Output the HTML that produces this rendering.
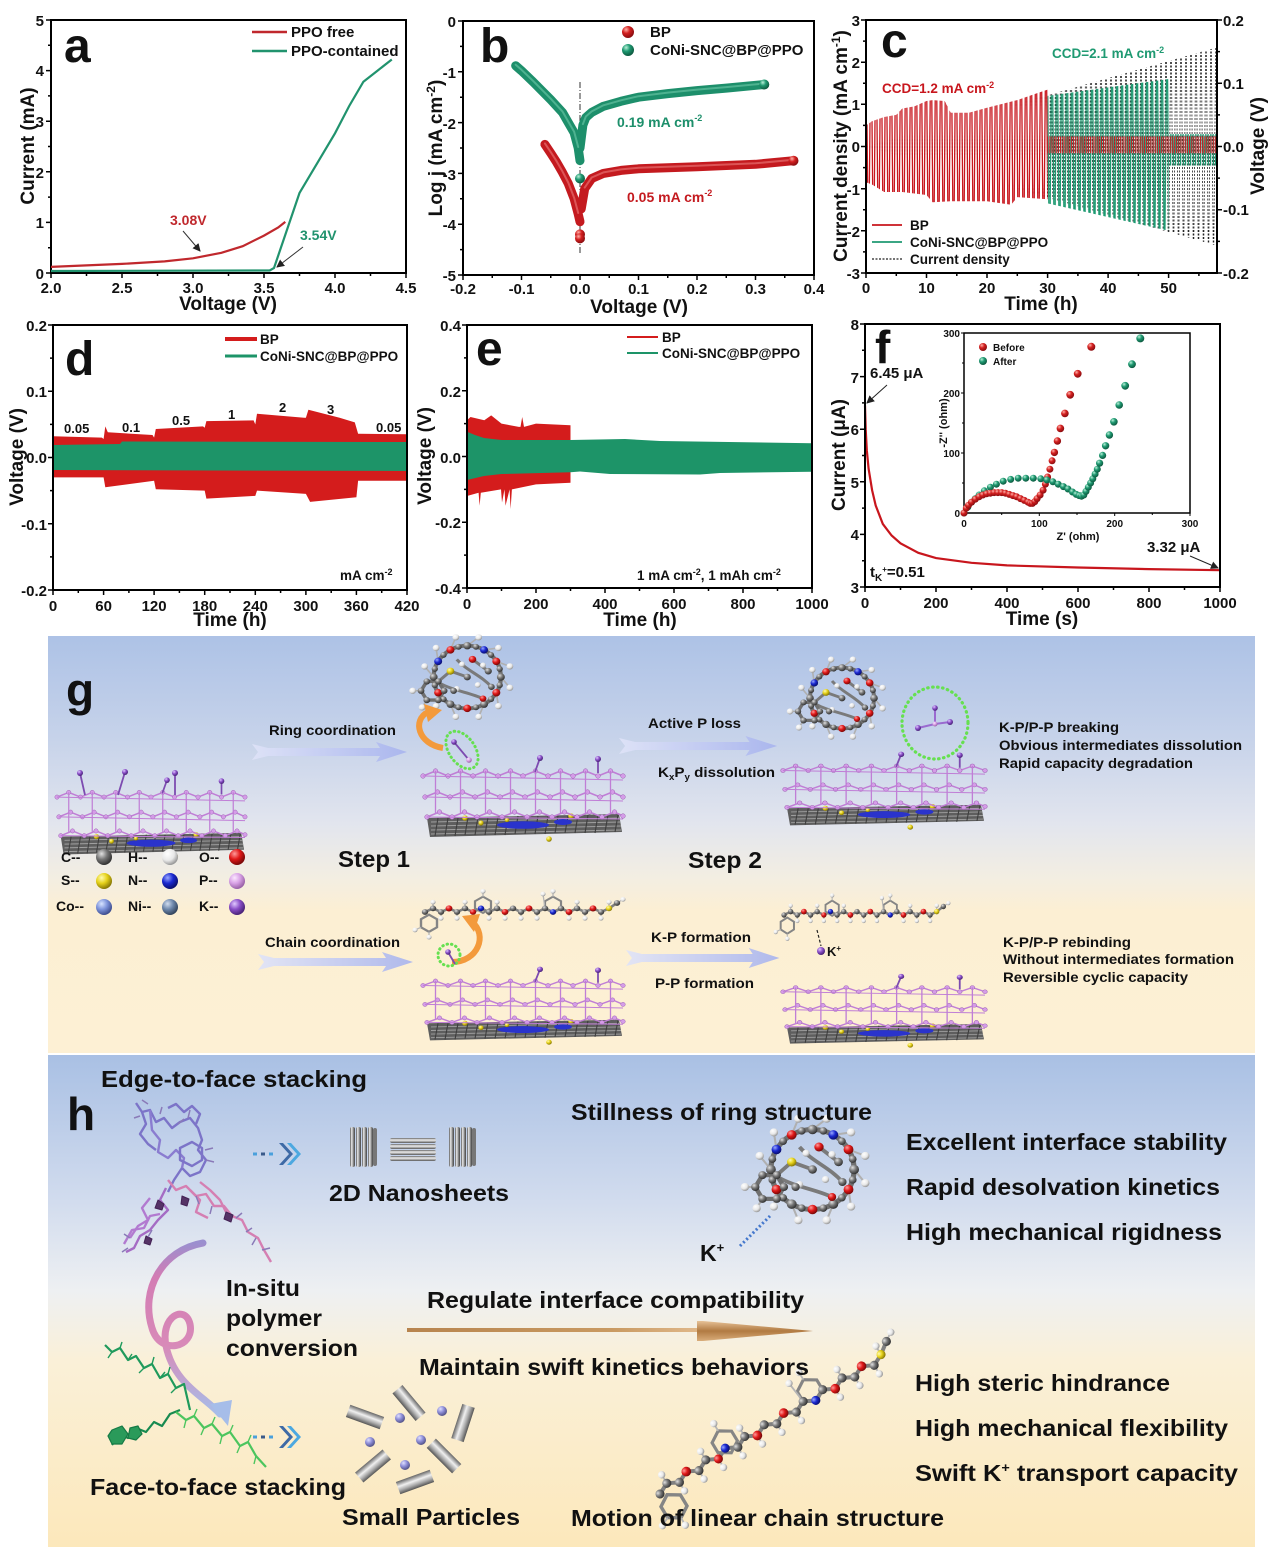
<!DOCTYPE html>
<html><head><meta charset="utf-8"><style>
html,body{margin:0;padding:0;background:#fff;}
svg{display:block;}
text{font-family:"Liberation Sans",Arial,sans-serif;font-weight:bold;fill:#111;}
</style></head><body>
<svg width="1269" height="1547" viewBox="0 0 1269 1547" xmlns="http://www.w3.org/2000/svg">
<defs>
<radialGradient id="gR" cx="35%" cy="30%" r="70%"><stop offset="0" stop-color="#ffb0a8"/><stop offset="0.45" stop-color="#d42020"/><stop offset="1" stop-color="#8a0d10"/></radialGradient>
<radialGradient id="gG" cx="35%" cy="30%" r="70%"><stop offset="0" stop-color="#b8f0d8"/><stop offset="0.45" stop-color="#1f9a72"/><stop offset="1" stop-color="#0d5a40"/></radialGradient>
<radialGradient id="gC" cx="35%" cy="30%" r="70%"><stop offset="0" stop-color="#e0e0e0"/><stop offset="0.5" stop-color="#777"/><stop offset="1" stop-color="#333"/></radialGradient>
<radialGradient id="gH" cx="35%" cy="30%" r="70%"><stop offset="0" stop-color="#fff"/><stop offset="0.6" stop-color="#e8e8e8"/><stop offset="1" stop-color="#9a9a9a"/></radialGradient>
<radialGradient id="gO" cx="35%" cy="30%" r="70%"><stop offset="0" stop-color="#ff9a9a"/><stop offset="0.5" stop-color="#e01818"/><stop offset="1" stop-color="#7a0808"/></radialGradient>
<radialGradient id="gS" cx="35%" cy="30%" r="70%"><stop offset="0" stop-color="#fffbb0"/><stop offset="0.5" stop-color="#e6d21a"/><stop offset="1" stop-color="#8a7a05"/></radialGradient>
<radialGradient id="gN" cx="35%" cy="30%" r="70%"><stop offset="0" stop-color="#9aa8ff"/><stop offset="0.5" stop-color="#1a28d0"/><stop offset="1" stop-color="#0a0f70"/></radialGradient>
<radialGradient id="gP" cx="35%" cy="30%" r="70%"><stop offset="0" stop-color="#fbe8ff"/><stop offset="0.5" stop-color="#d9a2e6"/><stop offset="1" stop-color="#9a62a8"/></radialGradient>
<radialGradient id="gCo" cx="35%" cy="30%" r="70%"><stop offset="0" stop-color="#d8e4ff"/><stop offset="0.5" stop-color="#7f95dc"/><stop offset="1" stop-color="#3f4f90"/></radialGradient>
<radialGradient id="gNi" cx="35%" cy="30%" r="70%"><stop offset="0" stop-color="#d0dcee"/><stop offset="0.5" stop-color="#6e88ac"/><stop offset="1" stop-color="#34465e"/></radialGradient>
<radialGradient id="gK" cx="35%" cy="30%" r="70%"><stop offset="0" stop-color="#e0c8ff"/><stop offset="0.5" stop-color="#8a4fc8"/><stop offset="1" stop-color="#4a2378"/></radialGradient>
<radialGradient id="gPart" cx="35%" cy="30%" r="70%"><stop offset="0" stop-color="#e0e0ff"/><stop offset="0.5" stop-color="#8e8ed8"/><stop offset="1" stop-color="#55558a"/></radialGradient>

<linearGradient id="bgG" x1="0" y1="0" x2="0" y2="1"><stop offset="0" stop-color="#adc2e6"/><stop offset="0.25" stop-color="#c7d3ea"/><stop offset="0.45" stop-color="#e2e5ee"/><stop offset="0.58" stop-color="#f3eee2"/><stop offset="0.66" stop-color="#fcefd3"/><stop offset="1" stop-color="#fdf0d4"/></linearGradient>
<linearGradient id="bgH" x1="0" y1="0" x2="0" y2="1"><stop offset="0" stop-color="#a9c0e4"/><stop offset="0.3" stop-color="#d2dcee"/><stop offset="0.48" stop-color="#eef0f2"/><stop offset="0.62" stop-color="#faf0d8"/><stop offset="1" stop-color="#fce8bb"/></linearGradient>
<linearGradient id="arrG" x1="0" y1="0" x2="1" y2="0"><stop offset="0" stop-color="#dfe3f8"/><stop offset="1" stop-color="#a7b3ee"/></linearGradient>
<linearGradient id="brown" x1="0" y1="0" x2="1" y2="0"><stop offset="0" stop-color="#b7844e"/><stop offset="0.7" stop-color="#c99a62"/><stop offset="1" stop-color="#e0b88a"/></linearGradient>
<linearGradient id="brownV" x1="0" y1="0" x2="0" y2="1"><stop offset="0" stop-color="#e6c196"/><stop offset="0.5" stop-color="#b17a42"/><stop offset="1" stop-color="#d9ad7a"/></linearGradient>
<linearGradient id="loopG" x1="0" y1="0" x2="0" y2="1"><stop offset="0" stop-color="#9b8fcf"/><stop offset="0.2" stop-color="#d37cb4"/><stop offset="0.6" stop-color="#d88ab8"/><stop offset="1" stop-color="#a6bde9"/></linearGradient>
<linearGradient id="metalH" x1="0" y1="0" x2="1" y2="0"><stop offset="0" stop-color="#555"/><stop offset="0.35" stop-color="#eee"/><stop offset="0.6" stop-color="#999"/><stop offset="1" stop-color="#444"/></linearGradient>
<linearGradient id="metalV" x1="0" y1="0" x2="0" y2="1"><stop offset="0" stop-color="#666"/><stop offset="0.4" stop-color="#f0f0f0"/><stop offset="0.7" stop-color="#aaa"/><stop offset="1" stop-color="#555"/></linearGradient>

<pattern id="zzK" patternUnits="userSpaceOnUse" x="866" y="20" width="5" height="253"><path d="M0,0 L2.5,253 L5,0" stroke="#222" stroke-width="0.8" stroke-dasharray="2 1.5" fill="none"/></pattern>
<pattern id="zzR" patternUnits="userSpaceOnUse" x="866" y="20" width="5" height="253"><path d="M0,0 L2.5,253 L5,0" stroke="#c8161d" stroke-width="1.3" fill="none"/></pattern>
<pattern id="zzG" patternUnits="userSpaceOnUse" x="867" y="20" width="5" height="253"><path d="M0,0 L2.5,253 L5,0" stroke="#1f9a72" stroke-width="1.3" fill="none"/></pattern>
<pattern id="zzR2" patternUnits="userSpaceOnUse" x="866" y="20" width="4.3" height="253"><path d="M0,0 L2.15,253 L4.3,0" stroke="#c8161d" stroke-width="1.1" fill="none"/></pattern>

<marker id="ah" markerWidth="8" markerHeight="8" refX="7" refY="4" orient="auto" markerUnits="userSpaceOnUse"><path d="M0,0 L8,4 L0,8 z" fill="#222"/></marker>
<marker id="pd" markerWidth="6" markerHeight="6" refX="3" refY="3" markerUnits="userSpaceOnUse"><circle cx="3" cy="3" r="2.3" fill="#d59ce8" stroke="#9a60b0" stroke-width="0.5"/></marker>

<g id="slab">
  <polygon points="4,57 196,53 199,71 7,76" fill="#5e5e5e"/>
  <path d="M8,61 L196,57 M8,65 L197,61 M8,69 L198,65 M8,73 L198,69" stroke="#a0a0a0" stroke-width="1" fill="none"/>
  <path d="M12,75 L15,57 M22,75 L25,57 M32,75 L35,57 M42,74 L45,56 M52,74 L55,56 M62,74 L65,56 M72,74 L75,56 M82,74 L85,56 M92,73 L95,55 M102,73 L105,55 M112,73 L115,55 M122,73 L125,55 M132,72 L135,55 M142,72 L145,55 M152,72 L155,54 M162,72 L165,54 M172,72 L175,54 M182,71 L185,54 M192,71 L195,54" stroke="#3e3e3e" stroke-width="1.1" fill="none"/>
  <ellipse cx="100" cy="64" rx="26" ry="3.8" fill="#2a33cc"/>
  <ellipse cx="140" cy="61" rx="9" ry="3" fill="#2a33cc"/>
  <circle cx="42" cy="57" r="2.8" fill="url(#gS)"/><circle cx="58" cy="62" r="2.6" fill="url(#gS)"/><circle cx="148" cy="55" r="2.8" fill="url(#gS)"/><circle cx="126" cy="78" r="2.8" fill="url(#gS)"/><circle cx="84" cy="59" r="2.2" fill="url(#gS)"/>
  <g stroke="#c07ed6" stroke-width="1.6" fill="none" marker-start="url(#pd)" marker-mid="url(#pd)" marker-end="url(#pd)">
    <polyline points="0,15 12.5,10 25,15 37.5,10 50,15 62.5,10 75,15 87.5,10 100,15 112.5,10 125,15 137.5,10 150,15 162.5,10 175,15 187.5,10 200,15"/>
    <polyline points="2,36 14.5,31 27,36 39.5,31 52,36 64.5,31 77,36 89.5,31 102,36 114.5,31 127,36 139.5,31 152,36 164.5,31 177,36 189.5,31 200,36"/>
    <polyline points="4,56 16.5,51 29,56 41.5,51 54,56 66.5,51 79,56 91.5,51 104,56 116.5,51 129,56 141.5,51 154,56 166.5,51 179,56 191.5,51 200,55"/>
  </g>
  <path d="M0,15 L200,19 M2,36 L200,40 M4,56 L200,58" stroke="#c07ed6" stroke-width="1.1" fill="none"/>
  <path d="M12.5,10 V52 M37.5,10 V52 M62.5,10 V52 M87.5,10 V52 M112.5,10 V52 M137.5,10 V52 M162.5,10 V52 M187.5,10 V52" stroke="#c07ed6" stroke-width="1.3" fill="none"/>
  <g stroke="#7d4bb0" stroke-width="1.8"><line x1="112" y1="11" x2="117" y2="-3"/><line x1="175" y1="12" x2="175" y2="-2"/></g>
  <circle cx="117" cy="-3" r="3" fill="url(#gK)"/><circle cx="175" cy="-2" r="3" fill="url(#gK)"/>
</g>

<g id="ring">
  <circle cx="5" cy="-2" r="32" stroke="#6f6f6f" stroke-width="4" fill="none"/>
  <path d="M-5,-20 C5,-8 18,-4 28,8 M-20,5 C-8,12 8,14 20,20" stroke="#7a7a7a" stroke-width="3" fill="none"/>
  <polygon points="-17,12 -22.5,21.5 -33.5,21.5 -39,12 -33.5,2.5 -22.5,2.5" stroke="#6f6f6f" stroke-width="3.4" fill="none"/>
  <path d="M-22.5,2.5 L-11,-8 L5,-2 M10,-20 L25,-8" stroke="#7a7a7a" stroke-width="3" fill="none"/>
  <g stroke="#b0b0b0" stroke-width="1.6"><path d="M37,-2 L45.6,8.9 M32.7,14 L34.7,27.7 M21,25.7 L15.9,38.6 M-11,25.7 L-5.9,38.6 M-22.7,14 L-24.7,27.7 M-27,-2 L-35.6,-12.9 M-22.7,-18 L-24.7,-31.7 M-11,-29.7 L-5.9,-42.6 M5,-34 L15.9,-42.6 M21,-29.7 L34.7,-31.7 M32.7,-18 L45.6,-12.9 M-39,12 L-47,12 M-33.5,21.5 L-38,29"/></g>
  <circle cx="45.6" cy="8.9" r="3.2" fill="url(#gH)"/><circle cx="34.7" cy="27.7" r="3.2" fill="url(#gH)"/><circle cx="15.9" cy="38.6" r="3.2" fill="url(#gH)"/><circle cx="-5.9" cy="38.6" r="3.2" fill="url(#gH)"/><circle cx="-24.7" cy="27.7" r="3.2" fill="url(#gH)"/><circle cx="-35.6" cy="-12.9" r="3.2" fill="url(#gH)"/><circle cx="-24.7" cy="-31.7" r="3.2" fill="url(#gH)"/><circle cx="-5.9" cy="-42.6" r="3.2" fill="url(#gH)"/><circle cx="15.9" cy="-42.6" r="3.2" fill="url(#gH)"/><circle cx="34.7" cy="-31.7" r="3.2" fill="url(#gH)"/><circle cx="45.6" cy="-12.9" r="3.2" fill="url(#gH)"/><circle cx="-47" cy="12" r="3.2" fill="url(#gH)"/><circle cx="-38" cy="29" r="3.2" fill="url(#gH)"/>
  <circle cx="-5" cy="10" r="2.8" fill="url(#gH)"/><circle cx="15" cy="6" r="2.8" fill="url(#gH)"/><circle cx="0" cy="-15" r="2.8" fill="url(#gH)"/><circle cx="20" cy="-14" r="2.8" fill="url(#gH)"/>
  <circle cx="35.9" cy="6.3" r="3" fill="url(#gC)"/><circle cx="27.6" cy="20.6" r="3" fill="url(#gC)"/><circle cx="13.3" cy="28.9" r="3" fill="url(#gC)"/><circle cx="-3.3" cy="28.9" r="3" fill="url(#gC)"/><circle cx="-17.6" cy="20.6" r="3" fill="url(#gC)"/><circle cx="-25.9" cy="6.3" r="3" fill="url(#gC)"/><circle cx="-25.9" cy="-10.3" r="3" fill="url(#gC)"/><circle cx="-17.6" cy="-24.6" r="3" fill="url(#gC)"/><circle cx="-3.3" cy="-32.9" r="3" fill="url(#gC)"/><circle cx="13.3" cy="-32.9" r="3" fill="url(#gC)"/><circle cx="27.6" cy="-24.6" r="3" fill="url(#gC)"/><circle cx="35.9" cy="-10.3" r="3" fill="url(#gC)"/>
  <circle cx="37" cy="-2" r="3.8" fill="url(#gC)"/><circle cx="32.7" cy="14" r="3.8" fill="url(#gO)"/><circle cx="21" cy="25.7" r="3.8" fill="url(#gC)"/><circle cx="5" cy="30" r="3.8" fill="url(#gO)"/><circle cx="-11" cy="25.7" r="3.8" fill="url(#gC)"/><circle cx="-22.7" cy="14" r="3.8" fill="url(#gO)"/><circle cx="-27" cy="-2" r="3.8" fill="url(#gC)"/><circle cx="-22.7" cy="-18" r="3.8" fill="url(#gN)"/><circle cx="-11" cy="-29.7" r="3.8" fill="url(#gO)"/><circle cx="5" cy="-34" r="3.8" fill="url(#gC)"/><circle cx="21" cy="-29.7" r="3.8" fill="url(#gN)"/><circle cx="32.7" cy="-18" r="3.8" fill="url(#gO)"/>
  <circle cx="-11" cy="-8" r="3.6" fill="url(#gS)"/><circle cx="5" cy="-2" r="3.4" fill="url(#gC)"/><circle cx="10" cy="-20" r="3.6" fill="url(#gO)"/><circle cx="25" cy="-8" r="3.4" fill="url(#gC)"/><circle cx="28" cy="8" r="3.2" fill="url(#gC)"/><circle cx="20" cy="20" r="3.2" fill="url(#gO)"/><circle cx="-8" cy="12" r="3.2" fill="url(#gC)"/>
  <circle cx="-17" cy="12" r="3.2" fill="url(#gC)"/><circle cx="-22.5" cy="21.5" r="3.2" fill="url(#gC)"/><circle cx="-33.5" cy="21.5" r="3.2" fill="url(#gC)"/><circle cx="-39" cy="12" r="3.2" fill="url(#gC)"/><circle cx="-33.5" cy="2.5" r="3.2" fill="url(#gC)"/><circle cx="-22.5" cy="2.5" r="3.2" fill="url(#gC)"/>
</g>

<g id="chain">
  <polyline points="0,0 8,-4 16,0 24,-4 32,0 40,-4 48,0 56,-4 64,0 72,-4 80,0 88,-4 96,0 104,-4 112,0 120,-4 128,0 136,-4 144,0 152,-4 160,0 168,-4 176,0 184,-4 192,-10" stroke="#808080" stroke-width="2.8" fill="none"/>
  <polygon points="-4,8 4,3 12,8 12,17 4,22 -4,17" stroke="#858585" stroke-width="2.4" fill="none"/>
  <polygon points="50,-12 58,-17 66,-12 66,-4 58,1 50,-4" stroke="#858585" stroke-width="2.2" fill="none"/>
  <polygon points="120,-12 128,-17 136,-12 136,-4 128,1 120,-4" stroke="#858585" stroke-width="2.2" fill="none"/>
  <g stroke="#b5b5b5" stroke-width="1.3"><path d="M8,-4 L8,-11 M16,0 L16,7 M32,0 L32,7 M40,-4 L40,-11 M48,0 L48,7 M64,0 L64,7 M72,-4 L72,-11 M80,0 L80,7 M96,0 L96,7 M112,0 L112,7 M120,-4 L118,-20 M144,0 L144,7 M152,-4 L152,-11 M160,0 L160,7 M176,0 L176,7 M184,-4 L184,-11 M192,-10 L198,-14 M-4,17 L-10,20 M4,22 L4,28 M58,-17 L58,-23 M128,-17 L128,-23"/></g>
  <circle cx="8" cy="-11" r="2.6" fill="url(#gH)"/><circle cx="16" cy="7" r="2.6" fill="url(#gH)"/><circle cx="32" cy="7" r="2.6" fill="url(#gH)"/><circle cx="40" cy="-11" r="2.6" fill="url(#gH)"/><circle cx="48" cy="7" r="2.6" fill="url(#gH)"/><circle cx="64" cy="7" r="2.6" fill="url(#gH)"/><circle cx="72" cy="-11" r="2.6" fill="url(#gH)"/><circle cx="80" cy="7" r="2.6" fill="url(#gH)"/><circle cx="96" cy="7" r="2.6" fill="url(#gH)"/><circle cx="112" cy="7" r="2.6" fill="url(#gH)"/><circle cx="118" cy="-20" r="2.6" fill="url(#gH)"/><circle cx="144" cy="7" r="2.6" fill="url(#gH)"/><circle cx="152" cy="-11" r="2.6" fill="url(#gH)"/><circle cx="160" cy="7" r="2.6" fill="url(#gH)"/><circle cx="176" cy="7" r="2.6" fill="url(#gH)"/><circle cx="184" cy="-11" r="2.6" fill="url(#gH)"/><circle cx="198" cy="-14" r="2.6" fill="url(#gH)"/><circle cx="-10" cy="20" r="2.6" fill="url(#gH)"/><circle cx="4" cy="28" r="2.6" fill="url(#gH)"/><circle cx="58" cy="-23" r="2.6" fill="url(#gH)"/><circle cx="128" cy="-23" r="2.6" fill="url(#gH)"/>
  <circle cx="0" cy="0" r="3.2" fill="url(#gC)"/><circle cx="8" cy="-4" r="3.2" fill="url(#gC)"/><circle cx="16" cy="0" r="3.2" fill="url(#gC)"/><circle cx="24" cy="-4" r="3.4" fill="url(#gO)"/><circle cx="32" cy="0" r="3.2" fill="url(#gC)"/><circle cx="40" cy="-4" r="3.2" fill="url(#gC)"/><circle cx="48" cy="0" r="3.2" fill="url(#gO)"/><circle cx="56" cy="-4" r="3.2" fill="url(#gN)"/><circle cx="64" cy="0" r="3.2" fill="url(#gC)"/><circle cx="72" cy="-4" r="3.2" fill="url(#gC)"/><circle cx="80" cy="0" r="3.4" fill="url(#gO)"/><circle cx="88" cy="-4" r="3.2" fill="url(#gC)"/><circle cx="96" cy="0" r="3.2" fill="url(#gC)"/><circle cx="104" cy="-4" r="3.4" fill="url(#gO)"/><circle cx="112" cy="0" r="3.2" fill="url(#gC)"/><circle cx="120" cy="-4" r="3.2" fill="url(#gC)"/><circle cx="128" cy="0" r="3.2" fill="url(#gN)"/><circle cx="136" cy="-4" r="3.2" fill="url(#gC)"/><circle cx="144" cy="0" r="3.4" fill="url(#gO)"/><circle cx="152" cy="-4" r="3.2" fill="url(#gC)"/><circle cx="160" cy="0" r="3.2" fill="url(#gC)"/><circle cx="168" cy="-4" r="3.4" fill="url(#gO)"/><circle cx="176" cy="0" r="3.2" fill="url(#gC)"/><circle cx="184" cy="-4" r="3.2" fill="url(#gS)"/><circle cx="192" cy="-10" r="3.2" fill="url(#gC)"/>
</g>

<g id="garrow"><polygon points="0,-8 16,-4 128,-4 124,-10 155,0 124,10 128,4 16,4 0,8 6,0" fill="url(#arrG)" opacity="0.9"/></g>
<g id="chev">
  <rect x="0" y="-1.5" width="4" height="3" fill="#4aa0dc"/><rect x="8" y="-1.5" width="4" height="3" fill="#3a5a8a"/><rect x="16" y="-1.5" width="4" height="3" fill="#4aa0dc"/>
  <path d="M26,-11 l4,0 l10,11 l-10,11 l-4,0 l10,-11 z" fill="#3e6aa6"/>
  <path d="M34,-11 l4,0 l10,11 l-10,11 l-4,0 l10,-11 z" fill="#4ca8e0"/>
</g>
</defs>

<rect width="1269" height="1547" fill="#fff"/>

<!-- ================= PANEL A ================= -->
<g>
  <rect x="51" y="20" width="355" height="253" fill="none" stroke="#000" stroke-width="2"/>
  <path d="M51,273v5M122,273v5M193,273v5M264,273v5M335,273v5M406,273v5M86.5,273v3M157.5,273v3M228.5,273v3M299.5,273v3M370.5,273v3M51,273h-5M51,222.4h-5M51,171.8h-5M51,121.2h-5M51,70.6h-5M51,20h-5M51,247.7h-3M51,197.1h-3M51,146.5h-3M51,95.9h-3M51,45.3h-3" stroke="#000" stroke-width="1.5"/>
  <g font-size="15" text-anchor="middle"><text x="51" y="293">2.0</text><text x="122" y="293">2.5</text><text x="193" y="293">3.0</text><text x="264" y="293">3.5</text><text x="335" y="293">4.0</text><text x="406" y="293">4.5</text></g>
  <g font-size="15" text-anchor="end"><text x="44" y="279">0</text><text x="44" y="228">1</text><text x="44" y="178">2</text><text x="44" y="127">3</text><text x="44" y="76">4</text><text x="44" y="26">5</text></g>
  <text x="228" y="310" font-size="19" text-anchor="middle">Voltage (V)</text>
  <text transform="translate(34,146) rotate(-90)" font-size="19" text-anchor="middle">Current (mA)</text>
  <polyline points="51,271 269.7,270.5 274,268 299.5,193 335,133.3 349.2,106 363.4,81.7 377.6,70.6 391.8,59.5" fill="none" stroke="#21936e" stroke-width="2.2"/>
  <polyline points="51,266.9 122,263.9 164.6,261.4 193,258.3 221.4,252.8 242.7,246.2 264,235.6 278.2,227.5 285.3,221.9" fill="none" stroke="#c0282d" stroke-width="2.2"/>
  <line x1="252" y1="32" x2="287" y2="32" stroke="#c0282d" stroke-width="2.5"/>
  <line x1="252" y1="51" x2="287" y2="51" stroke="#21936e" stroke-width="2.5"/>
  <text x="291" y="37" font-size="15">PPO free</text>
  <text x="291" y="56" font-size="15">PPO-contained</text>
  <text x="170" y="225" font-size="14" style="fill:#c0282d">3.08V</text>
  <line x1="183" y1="231" x2="200" y2="251" stroke="#333" stroke-width="1" marker-end="url(#ah)"/>
  <text x="300" y="240" font-size="14" style="fill:#21936e">3.54V</text>
  <line x1="303" y1="247" x2="277" y2="267" stroke="#333" stroke-width="1" marker-end="url(#ah)"/>
  <text x="64" y="62" font-size="48">a</text>
</g>

<!-- ================= PANEL B ================= -->
<g>
  <rect x="463" y="21" width="351" height="254" fill="none" stroke="#000" stroke-width="2"/>
  <path d="M463,275v5M521.5,275v5M580,275v5M638.5,275v5M697,275v5M755.5,275v5M814,275v5M492.25,275v3M550.75,275v3M609.25,275v3M667.75,275v3M726.25,275v3M784.75,275v3M463,21h-5M463,71.8h-5M463,122.6h-5M463,173.4h-5M463,224.2h-5M463,275h-5M463,46.4h-3M463,97.2h-3M463,148h-3M463,198.8h-3M463,249.6h-3" stroke="#000" stroke-width="1.5"/>
  <g font-size="15" text-anchor="middle"><text x="463" y="294">-0.2</text><text x="521.5" y="294">-0.1</text><text x="580" y="294">0.0</text><text x="638.5" y="294">0.1</text><text x="697" y="294">0.2</text><text x="755.5" y="294">0.3</text><text x="814" y="294">0.4</text></g>
  <g font-size="15" text-anchor="end"><text x="456" y="27">0</text><text x="456" y="78">-1</text><text x="456" y="129">-2</text><text x="456" y="180">-3</text><text x="456" y="230">-4</text><text x="456" y="281">-5</text></g>
  <text x="639" y="313" font-size="19" text-anchor="middle">Voltage (V)</text>
  <text transform="translate(442,148) rotate(-90)" font-size="19" text-anchor="middle">Log j (mA cm<tspan dy="-7" font-size="12">-2</tspan><tspan dy="7">)</tspan></text>
  <line x1="580" y1="82" x2="580" y2="255" stroke="#333" stroke-width="1" stroke-dasharray="6 2 1 2"/>
  <g fill="none" stroke-linecap="round" stroke-linejoin="round">
    <polyline points="515.65,65.7 521.5,70.8 533.2,82 550.75,99.7 562.45,112.4 568.3,122.6 574.15,132.8 578.2,148 580,160.7" stroke="#1d8f6b" stroke-width="9"/>
    <polyline points="580,148 582.9,125.1 585.85,117.5 591.7,112.4 603.4,106.3 620.95,101.3 638.5,97.2 667.75,93.6 697,90.6 726.25,88.1 764.3,84.5" stroke="#1d8f6b" stroke-width="9"/>
    <polyline points="544.9,144.4 550.75,153.1 556.6,162.2 562.45,172.4 568.3,183.6 574.15,198.8 578.2,214 580,221.7" stroke="#c41a1f" stroke-width="9"/>
    <polyline points="581.2,209 584.7,188.6 591.7,178.5 603.4,173.4 621,170.4 638.5,168.8 697,166.8 755.5,164.3 793.5,160.7" stroke="#c41a1f" stroke-width="9"/>
    <polyline points="515.65,64.7 521.5,69.8 533.2,81 550.75,98.7 562.45,111.4 568.3,121.6 574.15,131.8 578.2,147" stroke="#6fcaa8" stroke-width="2" opacity="0.6"/>
    <polyline points="582.9,124.1 585.85,116.5 591.7,111.4 603.4,105.3 620.95,100.3 638.5,96.2 667.75,92.6 697,89.6 726.25,87.1 764.3,83.5" stroke="#6fcaa8" stroke-width="2" opacity="0.6"/>
    <polyline points="544.9,143.4 550.75,152.1 556.6,161.2 562.45,171.4 568.3,182.6 574.15,197.8 578.2,213" stroke="#ec7c7c" stroke-width="2" opacity="0.6"/>
    <polyline points="584.7,187.6 591.7,177.5 603.4,172.4 621,169.4 638.5,167.8 697,165.8 755.5,163.3 793.5,159.7" stroke="#ec7c7c" stroke-width="2" opacity="0.6"/>
  </g>
  <circle cx="580" cy="178.5" r="5" fill="url(#gG)"/>
  <circle cx="580" cy="234.4" r="5" fill="url(#gR)"/><circle cx="580" cy="238.4" r="5" fill="url(#gR)"/>
  <circle cx="764.3" cy="84.5" r="5" fill="url(#gG)"/><circle cx="793.5" cy="160.7" r="5" fill="url(#gR)"/>
  <circle cx="628" cy="32" r="6" fill="url(#gR)"/><circle cx="628" cy="50" r="6" fill="url(#gG)"/>
  <text x="650" y="37" font-size="15">BP</text>
  <text x="650" y="55" font-size="15">CoNi-SNC@BP@PPO</text>
  <text x="617" y="127" font-size="14" style="fill:#1d8f6b">0.19 mA cm<tspan dy="-6" font-size="9">-2</tspan></text>
  <text x="627" y="202" font-size="14" style="fill:#c41a1f">0.05 mA cm<tspan dy="-6" font-size="9">-2</tspan></text>
  <text x="480" y="62" font-size="48">b</text>
</g>

<!-- ================= PANEL C ================= -->
<g>
  <polygon points="866,146.5 1217,47.4 1217,245.6" fill="url(#zzK)"/>
  <polygon points="1047.6,95.9 1168.6,79 1168.6,230.8 1047.6,203.4" fill="url(#zzG)"/>
  <polygon points="1168.6,134 1217,134 1217,165.5 1168.6,165.5" fill="url(#zzG)"/>
  <polygon points="866,125.4 872,121.2 884.2,117 896.3,114.9 902.3,108.5 914.4,106.4 926.5,101 932.6,100.1 944.7,101 950.7,112.8 968.9,112.8 987,107.7 1017.3,100.1 1035.5,93.8 1047.6,89.6 1047.6,199.2 1017.3,197.1 1011.2,204.7 987,201.3 950.7,201.3 932.6,202.2 926.5,195 902.3,192 884.2,192 872,184.5 866,182.3" fill="url(#zzR)"/>
  <polygon points="1047.6,136.4 1217,136.4 1217,153.3 1047.6,153.3" fill="url(#zzR2)"/>
  <rect x="866" y="20" width="351" height="253" fill="none" stroke="#000" stroke-width="2"/>
  <path d="M866,273v5M926.5,273v5M987,273v5M1047.6,273v5M1108.1,273v5M1168.6,273v5M896.3,273v3M956.8,273v3M1017.3,273v3M1077.9,273v3M1138.4,273v3M1198.9,273v3M866,20h-5M866,62.2h-5M866,104.3h-5M866,146.5h-5M866,188.7h-5M866,230.8h-5M866,273h-5M866,41.1h-3M866,83.2h-3M866,125.4h-3M866,167.6h-3M866,209.7h-3M866,251.9h-3M1217,20h5M1217,83.25h5M1217,146.5h5M1217,209.75h5M1217,273h5M1217,51.6h3M1217,114.9h3M1217,178.1h3M1217,241.4h3" stroke="#000" stroke-width="1.5"/>
  <g font-size="15" text-anchor="middle"><text x="866" y="293">0</text><text x="926.5" y="293">10</text><text x="987" y="293">20</text><text x="1047.6" y="293">30</text><text x="1108.1" y="293">40</text><text x="1168.6" y="293">50</text></g>
  <g font-size="15" text-anchor="end"><text x="860" y="26">3</text><text x="860" y="68">2</text><text x="860" y="110">1</text><text x="860" y="152">0</text><text x="860" y="195">-1</text><text x="860" y="237">-2</text><text x="860" y="279">-3</text></g>
  <g font-size="15" text-anchor="start"><text x="1223" y="26">0.2</text><text x="1223" y="89">0.1</text><text x="1223" y="152">0.0</text><text x="1223" y="215">-0.1</text><text x="1223" y="279">-0.2</text></g>
  <text x="1041" y="310" font-size="19" text-anchor="middle">Time (h)</text>
  <text transform="translate(847,146) rotate(-90)" font-size="19" text-anchor="middle">Current density (mA cm<tspan dy="-7" font-size="12">-1</tspan><tspan dy="7">)</tspan></text>
  <text transform="translate(1264,146) rotate(-90)" font-size="19" text-anchor="middle">Voltage (V)</text>
  <line x1="872" y1="225" x2="902" y2="225" stroke="#c8161d" stroke-width="1.8"/>
  <line x1="872" y1="242" x2="902" y2="242" stroke="#1f9a72" stroke-width="1.8"/>
  <line x1="872" y1="259" x2="902" y2="259" stroke="#222" stroke-width="1.2" stroke-dasharray="2 1.5"/>
  <text x="910" y="230" font-size="13.5">BP</text>
  <text x="910" y="247" font-size="13.5">CoNi-SNC@BP@PPO</text>
  <text x="910" y="264" font-size="13.5">Current density</text>
  <text x="882" y="93" font-size="13.5" style="fill:#c8161d">CCD=1.2 mA cm<tspan dy="-5" font-size="9">-2</tspan></text>
  <text x="1052" y="58" font-size="13.5" style="fill:#1f9a72">CCD=2.1 mA cm<tspan dy="-5" font-size="9">-2</tspan></text>
  <text x="881" y="57" font-size="48">c</text>
</g>

<!-- ================= PANEL D ================= -->
<g>
  <polygon points="53,436.3 101.9,437.6 103.6,439 105.3,426.4 107.8,432.3 152.5,435 154.1,437.6 155.8,429 203,426.4 204.7,427.7 206.4,421.1 253.6,420.4 255.3,424.4 257,413.8 304.2,417.8 305.9,417.8 308.4,409.8 339.6,417.8 354.8,422.4 358.1,433.7 407,434.3 407,480.7 358.1,480.7 356.4,497.3 310.1,501.9 305.9,493.9 257,490.6 255.3,495.9 206.4,498.6 204.7,490.6 155.8,489.3 154.1,480.7 105.3,487.3 103.6,477.4 53,477.4" fill="#d41c1c"/>
  <polygon points="53,445 120,444 122,441.5 407,442 407,471 53,470" fill="#1d9468"/>
  <rect x="53" y="325" width="354" height="265" fill="none" stroke="#000" stroke-width="2"/>
  <path d="M53,590v5M103.6,590v5M154.1,590v5M204.7,590v5M255.3,590v5M305.9,590v5M356.4,590v5M407,590v5M78.3,590v3M128.9,590v3M179.4,590v3M230,590v3M280.6,590v3M331.2,590v3M381.7,590v3M53,325h-5M53,391.25h-5M53,457.5h-5M53,523.75h-5M53,590h-5M53,358.1h-3M53,424.4h-3M53,490.6h-3M53,556.9h-3" stroke="#000" stroke-width="1.5"/>
  <g font-size="15" text-anchor="middle"><text x="53" y="611">0</text><text x="103.6" y="611">60</text><text x="154.1" y="611">120</text><text x="204.7" y="611">180</text><text x="255.3" y="611">240</text><text x="305.9" y="611">300</text><text x="356.4" y="611">360</text><text x="407" y="611">420</text></g>
  <g font-size="15" text-anchor="end"><text x="47" y="331">0.2</text><text x="47" y="397">0.1</text><text x="47" y="463">0.0</text><text x="47" y="530">-0.1</text><text x="47" y="596">-0.2</text></g>
  <text x="230" y="626" font-size="19" text-anchor="middle">Time (h)</text>
  <text transform="translate(23,457) rotate(-90)" font-size="19" text-anchor="middle">Voltage (V)</text>
  <line x1="225" y1="339" x2="257" y2="339" stroke="#d41c1c" stroke-width="4"/>
  <line x1="225" y1="356" x2="257" y2="356" stroke="#1d9468" stroke-width="3"/>
  <text x="260" y="344" font-size="13.5">BP</text>
  <text x="260" y="361" font-size="13.5">CoNi-SNC@BP@PPO</text>
  <g font-size="13"><text x="64" y="433">0.05</text><text x="122" y="432">0.1</text><text x="172" y="425">0.5</text><text x="228" y="419">1</text><text x="279" y="412">2</text><text x="327" y="414">3</text><text x="376" y="432">0.05</text></g>
  <text x="340" y="580" font-size="13.5">mA cm<tspan dy="-5" font-size="9">-2</tspan></text>
  <text x="65" y="375" font-size="48">d</text>
</g>

<!-- ================= PANEL E ================= -->
<g>
  <polygon points="467,420.3 470.5,417 484.3,420.3 491.2,415.4 501.5,423.6 518.8,426.9 520.5,426.9 522.2,417 524,426.9 536,423.6 570.5,425.3 570.5,482.8 536,484.4 511.9,489.4 510.6,509.1 509.6,489.4 505.5,505.8 504.5,489.4 502,502.5 501,489.4 480.8,492.7 479.6,505.8 478.6,492.7 467,496" fill="#d41c1c"/>
  <polygon points="467,431.7 475,435 484,438 501.5,440 570.5,440 625,439 660,441 812,443.3 812,471.7 720,473 700,474.5 610,474 580,471.5 570.5,472.3 501.5,474 484,476 467,480" fill="#1d9468"/>
  <rect x="467" y="325" width="345" height="263" fill="none" stroke="#000" stroke-width="2"/>
  <path d="M467,588v5M536,588v5M605,588v5M674,588v5M743,588v5M812,588v5M501.5,588v3M570.5,588v3M639.5,588v3M708.5,588v3M777.5,588v3M467,325h-5M467,390.75h-5M467,456.5h-5M467,522.25h-5M467,588h-5M467,357.9h-3M467,423.6h-3M467,489.4h-3M467,555.1h-3" stroke="#000" stroke-width="1.5"/>
  <g font-size="15" text-anchor="middle"><text x="467" y="609">0</text><text x="536" y="609">200</text><text x="605" y="609">400</text><text x="674" y="609">600</text><text x="743" y="609">800</text><text x="812" y="609">1000</text></g>
  <g font-size="15" text-anchor="end"><text x="461" y="331">0.4</text><text x="461" y="397">0.2</text><text x="461" y="463">0.0</text><text x="461" y="528">-0.2</text><text x="461" y="594">-0.4</text></g>
  <text x="640" y="626" font-size="19" text-anchor="middle">Time (h)</text>
  <text transform="translate(431,456) rotate(-90)" font-size="19" text-anchor="middle">Voltage (V)</text>
  <line x1="627" y1="337" x2="658" y2="337" stroke="#d41c1c" stroke-width="2"/>
  <line x1="627" y1="353" x2="658" y2="353" stroke="#1d9468" stroke-width="2"/>
  <text x="662" y="342" font-size="13.5">BP</text>
  <text x="662" y="358" font-size="13.5">CoNi-SNC@BP@PPO</text>
  <text x="637" y="580" font-size="13.5">1 mA cm<tspan dy="-5" font-size="9">-2</tspan><tspan dy="5">, 1 mAh cm</tspan><tspan dy="-5" font-size="9">-2</tspan></text>
  <text x="476" y="365" font-size="48">e</text>
</g>

<!-- ================= PANEL F ================= -->
<g>
  <polyline points="865,405.5 865.7,429.2 866.8,450.2 868.6,468.7 872.1,490.2 875.7,505.5 882.8,523.9 891.6,535.5 900.5,543.3 918.3,552.8 936,558.1 971.5,562.8 1007,565.4 1078,567.5 1149,569.1 1220,570.2" fill="none" stroke="#c8161d" stroke-width="2.2"/>
  <rect x="865" y="324" width="355" height="263" fill="none" stroke="#000" stroke-width="2"/>
  <path d="M865,587v5M936,587v5M1007,587v5M1078,587v5M1149,587v5M1220,587v5M900.5,587v3M971.5,587v3M1042.5,587v3M1113.5,587v3M1184.5,587v3M865,324h-5M865,376.6h-5M865,429.2h-5M865,481.8h-5M865,534.4h-5M865,587h-5M865,350.3h-3M865,402.9h-3M865,455.5h-3M865,508.1h-3M865,560.7h-3" stroke="#000" stroke-width="1.5"/>
  <g font-size="15" text-anchor="middle"><text x="865" y="608">0</text><text x="936" y="608">200</text><text x="1007" y="608">400</text><text x="1078" y="608">600</text><text x="1149" y="608">800</text><text x="1220" y="608">1000</text></g>
  <g font-size="15" text-anchor="end"><text x="859" y="330">8</text><text x="859" y="383">7</text><text x="859" y="435">6</text><text x="859" y="488">5</text><text x="859" y="540">4</text><text x="859" y="593">3</text></g>
  <text x="1042" y="625" font-size="19" text-anchor="middle">Time (s)</text>
  <text transform="translate(845,455) rotate(-90)" font-size="19" text-anchor="middle">Current (μA)</text>
  <text x="870" y="378" font-size="15">6.45 μA</text>
  <line x1="887" y1="385" x2="867" y2="403" stroke="#222" stroke-width="1" marker-end="url(#ah)"/>
  <text x="1147" y="552" font-size="15">3.32 μA</text>
  <line x1="1190" y1="556" x2="1218" y2="568" stroke="#222" stroke-width="1" marker-end="url(#ah)"/>
  <text x="870" y="577" font-size="15">t<tspan dy="4" font-size="10">K</tspan><tspan dy="-9" font-size="8">+</tspan><tspan dy="5">=0.51</tspan></text>
  <text x="875" y="363" font-size="46">f</text>
  <rect x="964" y="333" width="226" height="180" fill="none" stroke="#000" stroke-width="1.5"/>
  <path d="M964,513v3M1039.3,513v3M1114.7,513v3M1190,513v3M1001.7,513v2M1077,513v2M1152.3,513v2M964,513h-3M964,453h-3M964,393h-3M964,333h-3M964,483h-2M964,423h-2M964,363h-2" stroke="#000" stroke-width="1"/>
  <g font-size="10" text-anchor="middle"><text x="964" y="527">0</text><text x="1039.3" y="527">100</text><text x="1114.7" y="527">200</text><text x="1190" y="527">300</text></g>
  <g font-size="10" text-anchor="end"><text x="960" y="517">0</text><text x="960" y="457">100</text><text x="960" y="397">200</text><text x="960" y="337">300</text></g>
  <text x="1078" y="540" font-size="11" text-anchor="middle">Z' (ohm)</text>
  <text transform="translate(947,423) rotate(-90)" font-size="11" text-anchor="middle">-Z'' (ohm)</text>
  <g>
    <circle cx="964" cy="513" r="3.5" fill="url(#gG)"/><circle cx="967.8" cy="507" r="3.5" fill="url(#gG)"/><circle cx="971.5" cy="502.2" r="3.5" fill="url(#gG)"/><circle cx="975.3" cy="498.6" r="3.5" fill="url(#gG)"/><circle cx="979.1" cy="495" r="3.5" fill="url(#gG)"/><circle cx="984.3" cy="490.8" r="3.5" fill="url(#gG)"/><circle cx="990.4" cy="487.2" r="3.5" fill="url(#gG)"/><circle cx="996.4" cy="484.2" r="3.5" fill="url(#gG)"/><circle cx="1003.2" cy="481.2" r="3.5" fill="url(#gG)"/><circle cx="1010.7" cy="479.4" r="3.5" fill="url(#gG)"/><circle cx="1018.2" cy="478.2" r="3.5" fill="url(#gG)"/><circle cx="1025.8" cy="478.2" r="3.5" fill="url(#gG)"/><circle cx="1033.3" cy="478.2" r="3.5" fill="url(#gG)"/>
    <circle cx="964" cy="513" r="3.5" fill="url(#gR)"/><circle cx="966.3" cy="508.2" r="3.5" fill="url(#gR)"/><circle cx="968.5" cy="505.2" r="3.5" fill="url(#gR)"/><circle cx="971.5" cy="502.2" r="3.5" fill="url(#gR)"/><circle cx="975.3" cy="499.2" r="3.5" fill="url(#gR)"/><circle cx="979.1" cy="496.8" r="3.5" fill="url(#gR)"/><circle cx="982.8" cy="495" r="3.5" fill="url(#gR)"/><circle cx="986.6" cy="493.8" r="3.5" fill="url(#gR)"/><circle cx="990.4" cy="493.2" r="3.5" fill="url(#gR)"/><circle cx="994.1" cy="492.6" r="3.5" fill="url(#gR)"/><circle cx="997.9" cy="492.6" r="3.5" fill="url(#gR)"/><circle cx="1001.7" cy="492.6" r="3.5" fill="url(#gR)"/><circle cx="1005.4" cy="493.2" r="3.5" fill="url(#gR)"/><circle cx="1009.2" cy="494.4" r="3.5" fill="url(#gR)"/><circle cx="1013" cy="495.6" r="3.5" fill="url(#gR)"/><circle cx="1016.7" cy="496.8" r="3.5" fill="url(#gR)"/><circle cx="1020.5" cy="498.6" r="3.5" fill="url(#gR)"/><circle cx="1024.3" cy="500.4" r="3.5" fill="url(#gR)"/><circle cx="1028" cy="502.2" r="3.5" fill="url(#gR)"/><circle cx="1030.3" cy="503.4" r="3.5" fill="url(#gR)"/><circle cx="1032.5" cy="503.4" r="3.5" fill="url(#gR)"/><circle cx="1034.8" cy="501.6" r="3.5" fill="url(#gR)"/><circle cx="1037.1" cy="498.6" r="3.5" fill="url(#gR)"/><circle cx="1040.1" cy="495" r="3.5" fill="url(#gR)"/><circle cx="1043.1" cy="490.2" r="3.5" fill="url(#gR)"/><circle cx="1045.4" cy="484.2" r="3.5" fill="url(#gR)"/><circle cx="1047.6" cy="477" r="3.5" fill="url(#gR)"/><circle cx="1049.9" cy="469.2" r="3.5" fill="url(#gR)"/><circle cx="1052.1" cy="460.8" r="3.5" fill="url(#gR)"/><circle cx="1054.4" cy="452.4" r="3.7" fill="url(#gR)"/><circle cx="1057.4" cy="441" r="3.7" fill="url(#gR)"/><circle cx="1060.4" cy="428.4" r="3.8" fill="url(#gR)"/><circle cx="1064.9" cy="413.4" r="3.8" fill="url(#gR)"/><circle cx="1070.2" cy="394.8" r="3.9" fill="url(#gR)"/><circle cx="1077.7" cy="373.8" r="3.9" fill="url(#gR)"/><circle cx="1091.3" cy="346.8" r="4" fill="url(#gR)"/>
    <circle cx="1040.8" cy="478.8" r="3.5" fill="url(#gG)"/><circle cx="1046.9" cy="480" r="3.5" fill="url(#gG)"/><circle cx="1052.9" cy="481.8" r="3.5" fill="url(#gG)"/><circle cx="1058.2" cy="484.2" r="3.5" fill="url(#gG)"/><circle cx="1063.4" cy="486.6" r="3.5" fill="url(#gG)"/><circle cx="1068" cy="489" r="3.5" fill="url(#gG)"/><circle cx="1072.5" cy="492" r="3.5" fill="url(#gG)"/><circle cx="1076.2" cy="494.4" r="3.5" fill="url(#gG)"/><circle cx="1079.3" cy="495.6" r="3.5" fill="url(#gG)"/><circle cx="1081.5" cy="496.2" r="3.5" fill="url(#gG)"/><circle cx="1083.8" cy="495" r="3.5" fill="url(#gG)"/><circle cx="1086" cy="491.4" r="3.5" fill="url(#gG)"/><circle cx="1088.3" cy="487.2" r="3.5" fill="url(#gG)"/><circle cx="1090.6" cy="483" r="3.5" fill="url(#gG)"/><circle cx="1092.8" cy="478.8" r="3.5" fill="url(#gG)"/><circle cx="1095.1" cy="474" r="3.5" fill="url(#gG)"/><circle cx="1097.3" cy="469.2" r="3.5" fill="url(#gG)"/><circle cx="1099.6" cy="463.2" r="3.6" fill="url(#gG)"/><circle cx="1102.6" cy="455.4" r="3.6" fill="url(#gG)"/><circle cx="1105.6" cy="445.8" r="3.7" fill="url(#gG)"/><circle cx="1109.4" cy="435" r="3.7" fill="url(#gG)"/><circle cx="1113.9" cy="421.8" r="3.8" fill="url(#gG)"/><circle cx="1119.2" cy="405" r="3.8" fill="url(#gG)"/><circle cx="1125.2" cy="385.8" r="3.9" fill="url(#gG)"/><circle cx="1132" cy="364.2" r="3.9" fill="url(#gG)"/><circle cx="1140.3" cy="338.4" r="4" fill="url(#gG)"/>
  </g>
  <circle cx="983" cy="347" r="4" fill="url(#gR)"/><circle cx="983" cy="361" r="4" fill="url(#gG)"/>
  <text x="993" y="351" font-size="10">Before</text>
  <text x="993" y="365" font-size="10">After</text>
</g>

<!-- ================= PANEL G ================= -->
<rect x="48" y="636" width="1207" height="417" fill="url(#bgG)"/>
<g>
  <text x="66" y="706" font-size="46">g</text>
  <use href="#slab" transform="translate(57,783) scale(0.94)"/>
  <use href="#slab" transform="translate(423,761)"/>
  <use href="#slab" transform="translate(423,972) scale(1,0.9)"/>
  <use href="#slab" transform="translate(783,757) scale(1.01,0.9)"/>
  <use href="#slab" transform="translate(783,979) scale(1.01,0.85)"/>
  <g stroke="#7d4bb0" stroke-width="1.8"><line x1="85" y1="795" x2="80" y2="773"/><line x1="118" y1="795" x2="125" y2="772"/><line x1="175" y1="795" x2="175" y2="773"/></g>
  <circle cx="80" cy="773" r="3" fill="url(#gK)"/><circle cx="125" cy="772" r="3" fill="url(#gK)"/><circle cx="175" cy="773" r="3" fill="url(#gK)"/>
  <use href="#ring" transform="translate(462,679) scale(1.05,0.98)"/>
  <use href="#ring" transform="translate(837,700) scale(1.0,0.95)"/>
  <use href="#chain" transform="translate(425,912) scale(1.0,0.9)"/>
  <use href="#chain" transform="translate(784,915) scale(0.83,0.85)"/>
  <use href="#garrow" transform="translate(252,752)"/>
  <use href="#garrow" transform="translate(258,962)"/>
  <use href="#garrow" transform="translate(619,746) scale(1.02,1)"/>
  <use href="#garrow" transform="translate(626,958) scale(0.99,1)"/>
  <path d="M443,748 C418,744 412,720 428,712" fill="none" stroke="#f39a3c" stroke-width="6"/>
  <polygon points="424,704 442,710 428,722" fill="#f39a3c"/>
  <path d="M452,962 C478,962 488,935 472,922" fill="none" stroke="#f39a3c" stroke-width="6"/>
  <polygon points="462,916 480,914 474,932" fill="#f39a3c"/>
  <ellipse cx="462" cy="750" rx="13" ry="21" transform="rotate(-35 462 750)" fill="none" stroke="#66e050" stroke-width="3" stroke-dasharray="0.5 4" stroke-linecap="round"/>
  <line x1="454" y1="742" x2="469" y2="760" stroke="#7d4bb0" stroke-width="1.8"/>
  <circle cx="454" cy="742" r="2.8" fill="url(#gK)"/><circle cx="469" cy="760" r="2.8" fill="url(#gP)"/>
  <circle cx="449" cy="955" r="11" fill="none" stroke="#66e050" stroke-width="3" stroke-dasharray="0.5 4" stroke-linecap="round"/>
  <line x1="448" y1="952" x2="455" y2="964" stroke="#7d4bb0" stroke-width="1.8"/><circle cx="448" cy="952" r="2.8" fill="url(#gK)"/>
  <ellipse cx="935" cy="723" rx="33" ry="36" fill="none" stroke="#66e050" stroke-width="3.2" stroke-dasharray="0.5 4.5" stroke-linecap="round"/>
  <path d="M935,724 L935,708 M935,724 L918,728 M935,724 L950,722" stroke="#9a6ad0" stroke-width="2"/>
  <circle cx="935" cy="708" r="2.8" fill="url(#gK)"/><circle cx="918" cy="728" r="3" fill="url(#gK)"/><circle cx="950" cy="722" r="3" fill="url(#gK)"/><circle cx="935" cy="724" r="2.5" fill="url(#gP)"/>
  <line x1="817" y1="930" x2="821" y2="946" stroke="#222" stroke-width="1.2" stroke-dasharray="3 2"/>
  <circle cx="821" cy="951" r="4" fill="url(#gK)"/>
  <text x="827" y="956" font-size="13">K<tspan dy="-5" font-size="8">+</tspan></text>
  <g font-size="14">
    <text x="61" y="862">C--</text><text x="128" y="862">H--</text><text x="199" y="862">O--</text>
    <text x="61" y="885">S--</text><text x="128" y="885">N--</text><text x="199" y="885">P--</text>
    <text x="56" y="911">Co--</text><text x="128" y="911">Ni--</text><text x="199" y="911">K--</text>
  </g>
  <circle cx="104" cy="857" r="8" fill="url(#gC)"/><circle cx="170" cy="857" r="8" fill="url(#gH)"/><circle cx="237" cy="857" r="8" fill="url(#gO)"/>
  <circle cx="104" cy="881" r="8" fill="url(#gS)"/><circle cx="170" cy="881" r="8" fill="url(#gN)"/><circle cx="237" cy="881" r="8" fill="url(#gP)"/>
  <circle cx="104" cy="907" r="8" fill="url(#gCo)"/><circle cx="170" cy="907" r="8" fill="url(#gNi)"/><circle cx="237" cy="907" r="8" fill="url(#gK)"/>
  <text x="338" y="867" font-size="23" textLength="72" lengthAdjust="spacingAndGlyphs">Step 1</text>
  <text x="688" y="868" font-size="23" textLength="74" lengthAdjust="spacingAndGlyphs">Step 2</text>
  <g font-size="14">
    <text x="269" y="735" textLength="127" lengthAdjust="spacingAndGlyphs">Ring coordination</text>
    <text x="265" y="947" textLength="135" lengthAdjust="spacingAndGlyphs">Chain coordination</text>
    <text x="648" y="728" textLength="93" lengthAdjust="spacingAndGlyphs">Active P loss</text>
    <text x="658" y="777" textLength="117" lengthAdjust="spacingAndGlyphs">K<tspan dy="3" font-size="9">x</tspan><tspan dy="-3">P</tspan><tspan dy="3" font-size="9">y</tspan><tspan dy="-3"> dissolution</tspan></text>
    <text x="999" y="732" textLength="120" lengthAdjust="spacingAndGlyphs">K-P/P-P breaking</text>
    <text x="999" y="750" textLength="243" lengthAdjust="spacingAndGlyphs">Obvious intermediates dissolution</text>
    <text x="999" y="768" textLength="194" lengthAdjust="spacingAndGlyphs">Rapid capacity degradation</text>
    <text x="651" y="942" textLength="100" lengthAdjust="spacingAndGlyphs">K-P formation</text>
    <text x="655" y="988" textLength="99" lengthAdjust="spacingAndGlyphs">P-P formation</text>
    <text x="1003" y="947" textLength="128" lengthAdjust="spacingAndGlyphs">K-P/P-P rebinding</text>
    <text x="1003" y="964" textLength="231" lengthAdjust="spacingAndGlyphs">Without intermediates formation</text>
    <text x="1003" y="982" textLength="185" lengthAdjust="spacingAndGlyphs">Reversible cyclic capacity</text>
  </g>
</g>

<!-- ================= PANEL H ================= -->
<rect x="48" y="1055" width="1207" height="492" fill="url(#bgH)"/>
<g>
  <text x="67" y="1130" font-size="46">h</text>
  <g fill="none" stroke-width="2.4" stroke-linejoin="round">
    <polyline points="136,1103 142,1112 150,1110 156,1122 164,1118 172,1128 180,1122 190,1118 198,1128 202,1140 198,1150 206,1160 200,1172 190,1176 182,1168 174,1180 168,1192" stroke="#7c74c8"/>
    <polyline points="168,1108 176,1104 184,1112 192,1106 200,1114 196,1124" stroke="#7c74c8"/>
    <polyline points="150,1110 152,1130 160,1140 158,1152 168,1158 176,1150 184,1158 182,1168" stroke="#8a7cd0"/>
    <polyline points="142,1112 146,1124 140,1134 148,1144 156,1150" stroke="#7c74c8"/>
    <polygon points="180,1148 192,1142 202,1148 202,1160 192,1166 180,1160" stroke="#7c74c8"/>
    <polyline points="168,1180 176,1190 186,1186 196,1196 206,1194 214,1206 224,1206 232,1216 242,1220 248,1232 258,1238 264,1250 271,1262" stroke="#d57fb2"/>
    <polyline points="200,1182 210,1190 220,1200 226,1212" stroke="#d57fb2"/>
    <polyline points="190,1190 200,1200 196,1212 208,1218" stroke="#d57fb2"/>
    <polyline points="166,1188 160,1200 168,1210 158,1220 150,1230 140,1236 134,1248 126,1252" stroke="#a56cc4"/>
    <polyline points="150,1198 142,1208 148,1220 138,1226 130,1238" stroke="#b27ad0"/>
    <polyline points="160,1214 150,1216 144,1228 132,1230 124,1244" stroke="#b27ad0"/>
    <path d="M158,1200 l6,4 l-2,6 l-7,-2 z M182,1196 l7,3 l-2,7 l-6,-2 z M226,1212 l7,3 l-2,7 l-7,-3 z M146,1236 l6,3 l-2,6 l-6,-2 z" stroke="#442255" fill="#553366" stroke-width="1"/>
    <path d="M140,1116 l-6,2 M160,1114 l2,-7 M178,1124 l6,-5 M205,1150 l8,-2 M196,1196 l3,8 M236,1218 l6,-5 M256,1238 l-4,7 M262,1250 l8,-2 M130,1238 l-6,-4 M152,1230 l-4,7 M212,1206 l-2,8 M148,1104 l-6,-4 M188,1118 l2,-8 M206,1160 l8,2 M128,1248 l-6,4 M246,1232 l6,-4" stroke="#8a7ab8" stroke-width="1.5"/>
  </g>
  <path d="M203,1243 C162,1250 140,1290 152,1328 C160,1356 195,1348 190,1324 C185,1304 160,1316 166,1346 C174,1384 204,1396 220,1414" fill="none" stroke="url(#loopG)" stroke-width="7" stroke-linecap="round"/>
  <polygon points="210,1404 232,1400 228,1426" fill="#a6bde9"/>
  <g fill="none" stroke-width="2.2" stroke-linejoin="round">
    <polyline points="105,1345 112,1352 120,1348 128,1360 136,1356 144,1368 152,1364 160,1378 168,1374 176,1388 184,1384 190,1410" stroke="#1f9a5c"/>
    <path d="M112,1352 l-4,6 M128,1360 l4,-6 M144,1368 l-5,5 M160,1378 l5,-6 M176,1388 l-5,5 M120,1348 l2,-6 M152,1364 l2,-7 M168,1374 l2,-7" stroke="#1f9a5c" stroke-width="1.4"/>
    <polyline points="112,1445 120,1434 128,1438 136,1428 146,1432 154,1422 162,1426 170,1414 180,1410" stroke="#178a50"/>
    <path d="M112,1430 l10,-4 l6,8 l-6,10 l-10,0 l-4,-8 z M130,1428 l8,-2 l4,8 l-6,6 l-8,-2 z" stroke="#157a45" fill="#2a9a5a" stroke-width="1.2"/>
    <polyline points="176,1412 186,1420 194,1416 204,1428 212,1424 222,1436 230,1432 240,1446 248,1442 256,1456 266,1467" stroke="#4cc55e"/>
    <path d="M186,1420 l-2,8 M204,1428 l-3,7 M222,1436 l-2,8 M240,1446 l-3,7 M256,1456 l-2,8 M194,1416 l3,-7 M212,1424 l3,-7 M230,1432 l3,-7 M248,1442 l3,-7" stroke="#4cc55e" stroke-width="1.4"/>
  </g>
  <use href="#chev" transform="translate(253,1154)"/>
  <use href="#chev" transform="translate(253,1437)"/>
  <g>
    <rect x="350" y="1127" width="5" height="40" rx="2" fill="url(#metalH)"/><rect x="356" y="1127" width="5" height="40" rx="2" fill="url(#metalH)"/><rect x="362" y="1127" width="5" height="40" rx="2" fill="url(#metalH)"/><rect x="368" y="1127" width="5" height="40" rx="2" fill="url(#metalH)"/><rect x="373" y="1128" width="4" height="38" rx="2" fill="#777"/>
    <rect x="390" y="1138" width="46" height="5" rx="2" fill="url(#metalV)"/><rect x="390" y="1144" width="46" height="5" rx="2" fill="url(#metalV)"/><rect x="390" y="1150" width="46" height="5" rx="2" fill="url(#metalV)"/><rect x="390" y="1156" width="46" height="5" rx="2" fill="url(#metalV)"/>
    <rect x="449" y="1127" width="5" height="40" rx="2" fill="url(#metalH)"/><rect x="455" y="1127" width="5" height="40" rx="2" fill="url(#metalH)"/><rect x="461" y="1127" width="5" height="40" rx="2" fill="url(#metalH)"/><rect x="467" y="1127" width="5" height="40" rx="2" fill="url(#metalH)"/><rect x="472" y="1128" width="4" height="38" rx="2" fill="#777"/>
  </g>
  <g>
    <rect x="-18" y="-6.5" width="36" height="13" fill="url(#metalV)" transform="translate(365,1417) rotate(20)"/>
    <rect x="-18" y="-6.5" width="36" height="13" fill="url(#metalV)" transform="translate(409,1403) rotate(50)"/>
    <rect x="-18" y="-6.5" width="36" height="13" fill="url(#metalV)" transform="translate(463,1423) rotate(-72)"/>
    <rect x="-18" y="-6.5" width="36" height="13" fill="url(#metalV)" transform="translate(444,1456) rotate(45)"/>
    <rect x="-18" y="-6.5" width="36" height="13" fill="url(#metalV)" transform="translate(373,1466) rotate(-40)"/>
    <rect x="-18" y="-6.5" width="36" height="13" fill="url(#metalV)" transform="translate(415,1482) rotate(-20)"/>
    <circle cx="400" cy="1418" r="5" fill="url(#gPart)"/><circle cx="442" cy="1411" r="5" fill="url(#gPart)"/><circle cx="421" cy="1440" r="5" fill="url(#gPart)"/><circle cx="370" cy="1442" r="5" fill="url(#gPart)"/><circle cx="405" cy="1465" r="5" fill="url(#gPart)"/>
  </g>
  <use href="#ring" transform="translate(806,1172) scale(1.3,1.25)"/>
  <line x1="740" y1="1246" x2="770" y2="1216" stroke="#4477cc" stroke-width="3" stroke-dasharray="2 2.5"/>
  <use href="#chain" transform="translate(660,1494) rotate(-31) scale(1.42)"/>
  <rect x="407" y="1328" width="293" height="4" fill="url(#brown)"/>
  <polygon points="697,1321 703,1321 813,1331 703,1341 697,1341" fill="url(#brownV)"/>
  <g font-size="23">
    <text x="101" y="1087" textLength="266" lengthAdjust="spacingAndGlyphs">Edge-to-face  stacking</text>
    <text x="329" y="1201" textLength="180" lengthAdjust="spacingAndGlyphs">2D Nanosheets</text>
    <text x="226" y="1296" textLength="74" lengthAdjust="spacingAndGlyphs">In-situ</text>
    <text x="226" y="1326" textLength="96" lengthAdjust="spacingAndGlyphs">polymer</text>
    <text x="226" y="1356" textLength="132" lengthAdjust="spacingAndGlyphs">conversion</text>
    <text x="90" y="1495" textLength="256" lengthAdjust="spacingAndGlyphs">Face-to-face stacking</text>
    <text x="342" y="1525" textLength="178" lengthAdjust="spacingAndGlyphs">Small Particles</text>
    <text x="571" y="1120" textLength="301" lengthAdjust="spacingAndGlyphs">Stillness of ring structure</text>
    <text x="906" y="1150" textLength="321" lengthAdjust="spacingAndGlyphs">Excellent interface stability</text>
    <text x="906" y="1195" textLength="314" lengthAdjust="spacingAndGlyphs">Rapid desolvation kinetics</text>
    <text x="906" y="1240" textLength="316" lengthAdjust="spacingAndGlyphs">High mechanical rigidness</text>
    <text x="700" y="1261">K<tspan dy="-9" font-size="13">+</tspan></text>
    <text x="427" y="1308" textLength="377" lengthAdjust="spacingAndGlyphs">Regulate interface compatibility</text>
    <text x="419" y="1375" textLength="390" lengthAdjust="spacingAndGlyphs">Maintain swift kinetics behaviors</text>
    <text x="915" y="1391" textLength="255" lengthAdjust="spacingAndGlyphs">High steric hindrance</text>
    <text x="915" y="1436" textLength="313" lengthAdjust="spacingAndGlyphs">High mechanical flexibility</text>
    <text x="915" y="1481" textLength="323" lengthAdjust="spacingAndGlyphs">Swift  K<tspan dy="-9" font-size="13">+</tspan><tspan dy="9"> transport capacity</tspan></text>
    <text x="571" y="1526" textLength="373" lengthAdjust="spacingAndGlyphs">Motion of linear chain structure</text>
  </g>
</g>
</svg>
</body></html>
